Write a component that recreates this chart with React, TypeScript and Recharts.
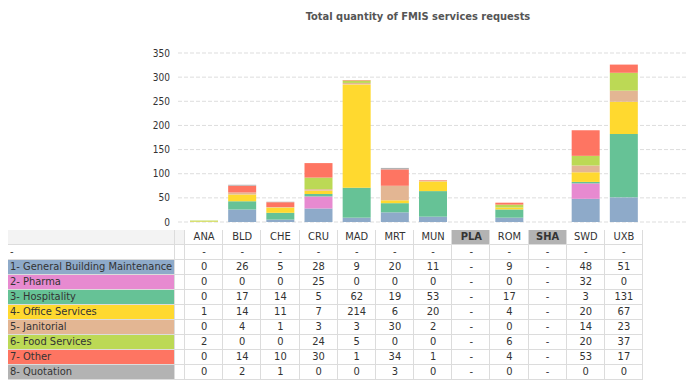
import React from 'react';
import { BarChart, Bar, XAxis, YAxis, CartesianGrid } from 'recharts';

const categories = ['ANA', 'BLD', 'CHE', 'CRU', 'MAD', 'MRT', 'MUN', 'PLA', 'ROM', 'SHA', 'SWD', 'UXB'];
const disabledCategories = ['PLA', 'SHA'];
const seriesNames = [
  '1- General Building Maintenance',
  '2- Pharma',
  '3- Hospitality',
  '4- Office Services',
  '5- Janitorial',
  '6- Food Services',
  '7- Other',
  '8- Quotation',
];
const seriesColors = ['#8eaac9', '#e78ad0', '#66c296', '#ffd92f', '#e3b693', '#bcd955', '#fe7562', '#b3b3b3'];

const generalBuilding = [0, 26, 5, 28, 9, 20, 11, null, 9, null, 48, 51];
const pharma = [0, 0, 0, 25, 0, 0, 0, null, 0, null, 32, 0];
const hospitality = [0, 17, 14, 5, 62, 19, 53, null, 17, null, 3, 131];
const officeServices = [1, 14, 11, 7, 214, 6, 20, null, 4, null, 20, 67];
const janitorial = [0, 4, 1, 3, 3, 30, 2, null, 0, null, 14, 23];
const foodServices = [2, 0, 0, 24, 5, 0, 0, null, 6, null, 20, 37];
const other = [0, 14, 10, 30, 1, 34, 1, null, 4, null, 53, 17];
const quotation = [0, 2, 1, 0, 0, 3, 0, null, 0, null, 0, 0];

const yTicks = [0, 50, 100, 150, 200, 250, 300, 350];
const title = 'Total quantity of FMIS services requests';

const seriesValues = [generalBuilding, pharma, hospitality, officeServices, janitorial, foodServices, other, quotation];
const keys = ['s1', 's2', 's3', 's4', 's5', 's6', 's7', 's8'];

const data = categories.map((c, i) => {
  const row: any = { cat: c };
  keys.forEach((k, j) => {
    row[k] = seriesValues[j][i];
  });
  return row;
});

const FONT = "'DejaVu Sans Condensed', 'DejaVu Sans', sans-serif";
const TEXT = '#333333';
const LINE = '#dcdcdc';

// table layout
const LABEL_LEFT = 8;
const LABEL_RIGHT = 174;
const GAP_RIGHT = 185;
const TABLE_RIGHT = 643;
const COL_W = (TABLE_RIGHT - GAP_RIGHT) / categories.length;
const HEADER_TOP = 230;
const HEADER_H = 14;
const ROW_H = 15;

function Table() {
  const cells: React.ReactNode[] = [];
  const rowsTop = HEADER_TOP + HEADER_H;
  const nRows = seriesNames.length + 1;
  const bottom = rowsTop + nRows * ROW_H;
  // header background for label area
  cells.push(
    <div key="hbg" style={{ position: 'absolute', left: LABEL_LEFT, top: HEADER_TOP, width: GAP_RIGHT - LABEL_LEFT, height: HEADER_H, background: '#f3f3f3' }} />
  );
  // header cells
  categories.forEach((c, i) => {
    const dis = disabledCategories.includes(c);
    cells.push(
      <div
        key={'h' + c}
        style={{
          position: 'absolute',
          left: GAP_RIGHT + i * COL_W,
          top: HEADER_TOP,
          width: COL_W,
          height: HEADER_H,
          lineHeight: HEADER_H + 'px',
          textAlign: 'center',
          background: dis ? '#b3b3b3' : 'transparent',
          fontWeight: dis ? 'bold' : 'normal',
          color: TEXT,
        }}
      >
        {c}
      </div>
    );
  });
  // label rows
  const labels = ['-', ...seriesNames];
  labels.forEach((l, r) => {
    const top = rowsTop + r * ROW_H;
    cells.push(
      <div
        key={'l' + r}
        style={{
          position: 'absolute',
          left: LABEL_LEFT,
          top: top + 1,
          width: LABEL_RIGHT - LABEL_LEFT,
          height: ROW_H - 1,
          lineHeight: ROW_H - 1 + 'px',
          paddingLeft: 2,
          boxSizing: 'border-box',
          background: r === 0 ? 'transparent' : seriesColors[r - 1],
          color: TEXT,
          whiteSpace: 'nowrap',
        }}
      >
        {l}
      </div>
    );
    categories.forEach((c, i) => {
      const dis = disabledCategories.includes(c);
      const v = r === 0 ? null : seriesValues[r - 1][i];
      const txt = r === 0 || dis || v === null ? '-' : String(v);
      cells.push(
        <div
          key={'c' + r + '_' + i}
          style={{
            position: 'absolute',
            left: GAP_RIGHT + i * COL_W,
            top: top + 1,
            width: COL_W,
            height: ROW_H - 1,
            lineHeight: ROW_H - 1 + 'px',
            textAlign: 'center',
            color: TEXT,
          }}
        >
          {txt}
        </div>
      );
    });
  });
  // horizontal lines
  for (let r = 0; r <= nRows; r++) {
    const y = rowsTop + r * ROW_H;
    cells.push(
      <div key={'hl' + r} style={{ position: 'absolute', left: LABEL_LEFT, top: y, width: TABLE_RIGHT - LABEL_LEFT, height: 1, background: LINE }} />
    );
  }
  // vertical lines
  cells.push(
    <div key="vlab" style={{ position: 'absolute', left: LABEL_RIGHT, top: HEADER_TOP, width: 1, height: bottom - HEADER_TOP, background: LINE }} />
  );
  for (let i = 0; i <= categories.length; i++) {
    const x = Math.round(GAP_RIGHT + i * COL_W);
    cells.push(
      <div key={'vl' + i} style={{ position: 'absolute', left: x - 1, top: HEADER_TOP, width: 1, height: bottom - HEADER_TOP, background: LINE }} />
    );
  }
  return <>{cells}</>;
}

export default function App() {
  return (
    <div style={{ position: 'fixed', left: 0, top: 0, width: 696, height: 382, background: '#fff', fontFamily: FONT, fontSize: 11, overflow: 'hidden' }}>
      <div
        style={{
          position: 'absolute',
          left: 218,
          top: 10,
          width: 400,
          textAlign: 'center',
          fontWeight: 'bold',
          fontSize: 11,
          color: '#555555',
        }}
      >
        {title}
      </div>
      <div style={{ position: 'absolute', left: 0, top: 0 }}>
        <BarChart width={696} height={232} data={data} margin={{ top: 53, right: 10, left: 0, bottom: 10 }}>
          <CartesianGrid vertical={false} stroke="#dddddd" strokeDasharray="4 2" />
          <XAxis dataKey="cat" hide padding={{ left: 7, right: 43 }} />
          <YAxis
            width={178}
            domain={[0, 350]}
            ticks={yTicks}
            interval={0}
            axisLine={false}
            tickLine={false}
            tick={{ fill: '#333', fontSize: 10, fontFamily: FONT }}
          />
          {keys.map((k, j) => (
            <Bar key={k} dataKey={k} stackId="a" fill={seriesColors[j]} barSize={28} isAnimationActive={false} />
          ))}
        </BarChart>
      </div>
      <Table />
    </div>
  );
}
